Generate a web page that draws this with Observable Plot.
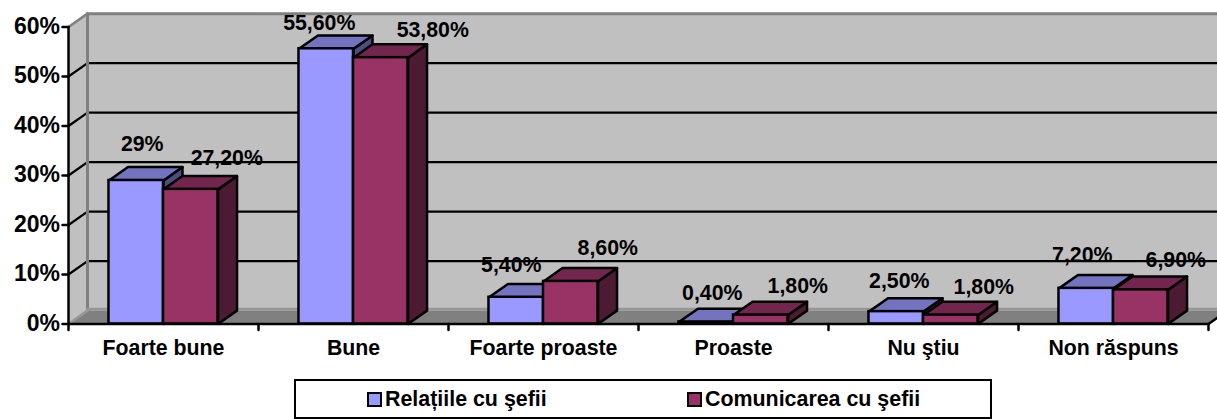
<!DOCTYPE html>
<html lang="ro">
<head>
<meta charset="utf-8">
<script src="https://cdn.jsdelivr.net/npm/d3@7"></script>
<script src="https://cdn.jsdelivr.net/npm/@observablehq/plot@0.6"></script>
<style>
html,body{margin:0;padding:0;background:#fff;overflow:hidden}
body{width:1217px;height:419px;font-family:"Liberation Sans",Arial,sans-serif}
svg{display:block}
#legend{position:absolute;left:294px;top:379px;width:694px;height:36px;border:2.5px solid #000;display:block;font:bold 21.4px "Liberation Sans",Arial,sans-serif;color:#000}
#legend .item{position:absolute;top:0;height:36px;display:flex;align-items:center;white-space:nowrap}
#legend i{display:inline-block;box-sizing:border-box;width:15px;height:15px;border:2.5px solid #000;margin-right:3px}
</style>
</head>
<body>
<div id="chart"></div>
<div id="legend"></div>
<script>
const categories = ["Foarte bune", "Bune", "Foarte proaste", "Proaste", "Nu ştiu", "Non răspuns"];
const seriesNames = ["Relațiile cu şefii", "Comunicarea cu şefii"];
const relatii = [29, 55.6, 5.4, 0.4, 2.5, 7.2];
const comunicare = [27.2, 53.8, 8.6, 1.8, 1.8, 6.9];
const relatiiLabels = ["29%", "55,60%", "5,40%", "0,40%", "2,50%", "7,20%"];
const comunicareLabels = ["27,20%", "53,80%", "8,60%", "1,80%", "1,80%", "6,90%"];
const yTicks = [0, 10, 20, 30, 40, 50, 60];

// Styling: hand-placed label nudges in the original (px), colours and 3D depth.
const relatiiNudge = [[6,-36],[-7,-26],[-5,-32],[6,-28.5],[3,-30],[-4,-33]];
const comunicareNudge = [[36,-31],[52,-28],[37,-33],[37,-28.6],[33,-27.6],[35,-30]];
const colors = [
  {front:"#9999FF", top:"#7373BF", side:"#4D4D80"},
  {front:"#993366", top:"#73264D", side:"#4D1A33"}
];
const pxX = 190, pxY = 4.95, H = 375;
const depthX = 0.1, depthY = 2.7, barW = 0.287, gap = 0.213;
const tickX = 6 / pxX, tickY = 6 / pxY;
const font = {fontFamily:"Liberation Sans, Arial, sans-serif", fontWeight:"bold", fontSize:21.3, fill:"#000"};

const poly = (pts, fill, stroke, strokeWidth = 2.5) =>
  Plot.line(pts.concat([pts[0]]), {x:"0", y:"1", fill, stroke, strokeWidth, strokeLinejoin:"round", curve:"linear"});
const seg = (a, b, stroke = "#000", strokeWidth = 2.5) =>
  Plot.line([a, b], {x:"0", y:"1", stroke, strokeWidth});

const n = categories.length;
const marks = [
  // back wall, side wall, floor
  poly([[depthX,depthY],[n+depthX,depthY],[n+depthX,60+depthY],[depthX,60+depthY]], "#C0C0C0", "none"),
  poly([[0,0],[depthX,depthY],[depthX,60+depthY],[0,60]], "#C0C0C0", "none"),
  poly([[0,0],[depthX,depthY],[n+depthX,depthY],[n,0]], "#808080", "none"),
  // grid lines
  ...yTicks.filter(v => v > 0 && v < 60).flatMap(v => [
    seg([depthX,v+depthY],[n+depthX,v+depthY],"#000",2.2),
    seg([0,v],[depthX,v+depthY],"#000",2.2)
  ]),
  seg([depthX,depthY],[depthX,60+depthY],"#808080",3),
  seg([depthX,depthY+0.3],[n+depthX,depthY+0.3],"#969696",3),
  seg([0,60],[depthX,60+depthY],"#808080",2.5),
  seg([depthX,60+depthY],[n+depthX,60+depthY],"#808080",3),
  seg([0,0],[depthX,depthY],"#969696",2.5),
  seg([n,0],[n+depthX,depthY]),
];

// bars
[relatii, comunicare].forEach((vals, s) => {
  vals.forEach((v, i) => {
    const x0 = i + gap + s * barW, x1 = x0 + barW;
    marks.push(
      poly([[x1,0],[x1+depthX,depthY],[x1+depthX,v+depthY],[x1,v]], colors[s].side, "#000"),
      poly([[x0,v],[x1,v],[x1+depthX,v+depthY],[x0+depthX,v+depthY]], colors[s].top, "#000")
    );
  });
  marks.push(Plot.rect(vals.map((v, i) => ({i, v})), {
    x1: d => d.i + gap + s * barW,
    x2: d => d.i + gap + (s + 1) * barW,
    y1: 0, y2: "v", fill: colors[s].front, stroke: "#000", strokeWidth: 2.5
  }));
});

// axes
marks.push(
  seg([0,0],[0,60]),
  seg([0,0],[n,0]),
  ...yTicks.map(v => seg([-tickX,v],[0,v])),
  ...d3.range(n + 1).map(i => seg([i,0],[i,-tickY])),
  Plot.text(yTicks, {x:0, y:d=>d, text:d=>d+"%", textAnchor:"end", dx:-8.5, dy:-0.5, ...font, fontSize:23}),
  Plot.text(categories, {x:(d,i)=>i+0.5, y:0, text:d=>d, dy:24, ...font})
);

// data labels
[[relatii,relatiiLabels,relatiiNudge],[comunicare,comunicareLabels,comunicareNudge]].forEach(([vals,labs,nudge],s) => {
  vals.forEach((v,i) => marks.push(
    Plot.text([labs[i]], {x:[i+gap+(s+0.5)*barW], y:[v], text:d=>d, dx:nudge[i][0], dy:nudge[i][1], ...font})
  ));
});

const chart = Plot.plot({
  width:1217, height:H, margin:0,
  x:{type:"linear", domain:[-68/pxX,(1217-68)/pxX], range:[0,1217], axis:null},
  y:{type:"linear", domain:[(323.5-H)/pxY,323.5/pxY], range:[H,0], axis:null},
  marks
});
document.getElementById("chart").append(chart);

const legend = document.getElementById("legend");
[71, 391].forEach((left, s) => {
  const it = document.createElement("div");
  it.className = "item"; it.style.left = left + "px";
  const sw = document.createElement("i"); sw.style.background = colors[s].front;
  it.append(sw, seriesNames[s]);
  legend.append(it);
});
</script>
</body>
</html>
